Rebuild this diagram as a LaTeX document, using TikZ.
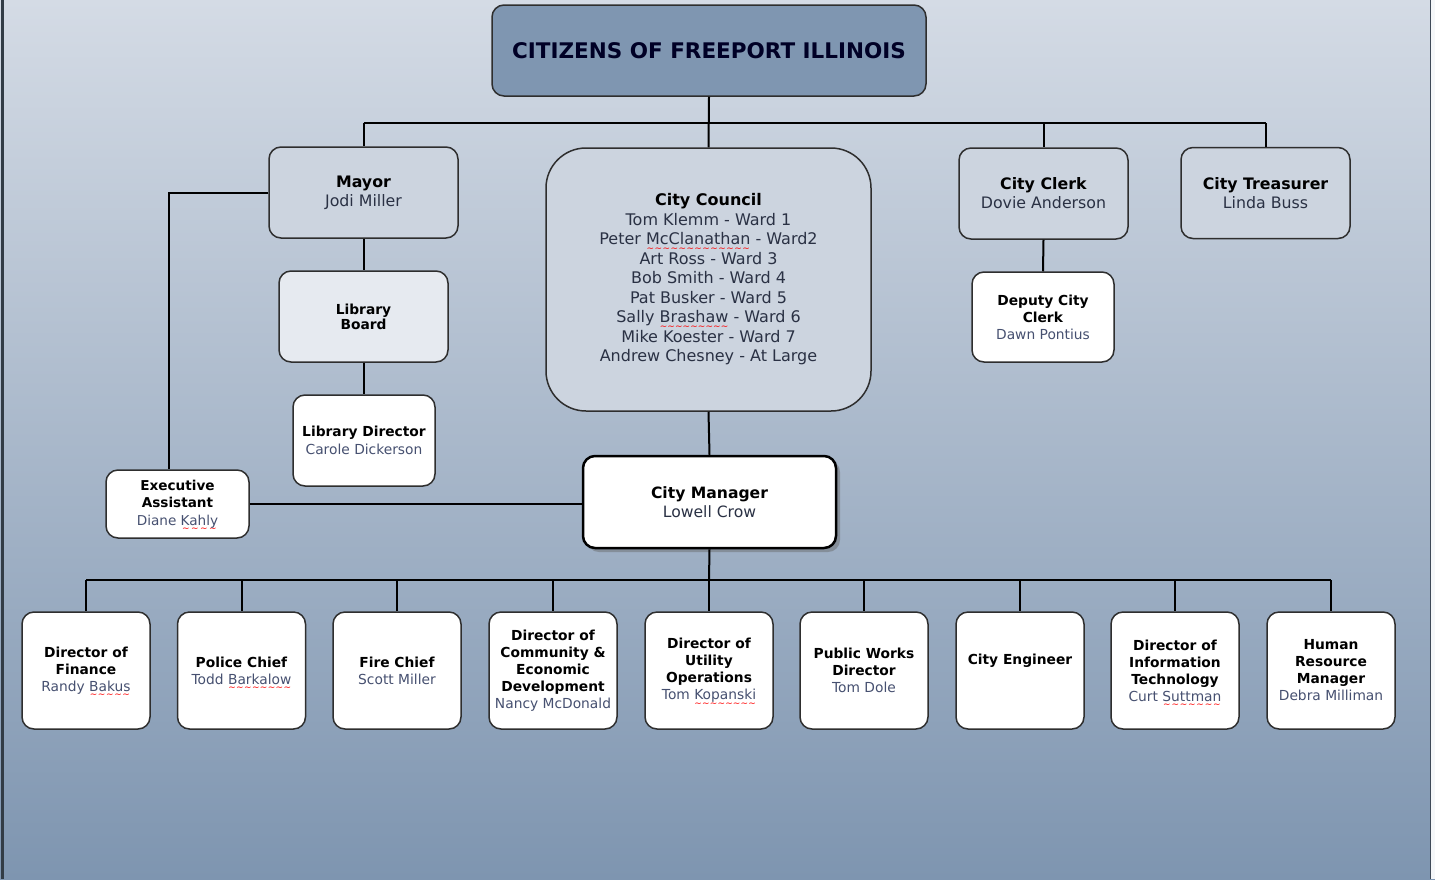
\documentclass[tikz,border=0pt]{standalone}
\usepackage{fontspec}
\setmainfont{DejaVu Sans}
\usetikzlibrary{shadows}

\definecolor{bgtop}{HTML}{D4DBE5}
\definecolor{bgbot}{HTML}{7E95B0}
\definecolor{titlefill}{HTML}{7F96B1}
\definecolor{boardfill}{HTML}{CCD4DF}
\definecolor{libfill}{HTML}{E6EAF0}
\definecolor{upname}{HTML}{2A3144}
\definecolor{namecol}{HTML}{465070}
\definecolor{framecol}{HTML}{2E2E2E}

% red spell-check wave under a word
\newcommand{\spellwave}[1]{\setbox0\hbox{#1}\rlap{\raisebox{-6.5pt}[0pt][0pt]{\textcolor{red}{\fontsize{9}{9}\selectfont\hbox to \wd0{\xleaders\hbox{\char"7E}\hfill}}}}#1}
\newcommand{\who}[1]{\textcolor{namecol}{#1}}
\newcommand{\upwho}[1]{\textcolor{upname}{#1}}

\begin{document}
\begin{tikzpicture}[x=1pt,y=-1pt,
        box/.style={draw=framecol,line width=1.5pt,rounded corners=12pt,align=center,inner sep=2pt},
        upper/.style={box,fill=boardfill,font=\fontsize{15.8}{19}\selectfont},
        staff/.style={box,fill=white,minimum width=128pt,minimum height=117pt,font=\fontsize{13.8}{17}\selectfont},
        link/.style={draw=black,line width=2pt}
    ]
    \useasboundingbox (0,0) rectangle (1435,879);
    \shade[top color=bgtop,bottom color=bgbot] (0,0) rectangle (1435,879);
    \fill[white!92!bgbot] (1431,0) rectangle (1435,879);
    \draw[line width=2.5pt,color=black!60!bgbot] (2.5,0) -- (2.5,879);
    \draw[line width=1.2pt,color=black!50!bgbot] (1430.5,0) -- (1430.5,879);

    % top level
    \node[box,fill=titlefill,minimum width=434pt,minimum height=91pt,
        font=\fontsize{21.5}{25}\selectfont\bfseries,text=black!85!blue] (title) at (709,50.5)
        {CITIZENS OF FREEPORT ILLINOIS};

    \node[upper,minimum width=189pt,minimum height=91pt] (mayor) at (363.5,192.5)
        {\textbf{Mayor}\\\upwho{Jodi Miller}};
    \node[upper,minimum width=325pt,minimum height=263pt,rounded corners=40pt,
        font=\fontsize{16}{19.5}\selectfont] (council) at (708.5,279.5)
        {\textbf{City Council}\\
        \upwho{Tom Klemm - Ward 1}\\
        \upwho{Peter \spellwave{McClanathan} - Ward2}\\
        \upwho{Art Ross - Ward 3}\\
        \upwho{Bob Smith - Ward 4}\\
        \upwho{Pat Busker - Ward 5}\\
        \upwho{Sally \spellwave{Brashaw} - Ward 6}\\
        \upwho{Mike Koester - Ward 7}\\
        \upwho{Andrew Chesney - At Large}};
    \node[upper,minimum width=169pt,minimum height=91pt] (clerk) at (1043.5,193.5)
        {\textbf{City Clerk}\\\upwho{Dovie Anderson}};
    \node[upper,minimum width=169pt,minimum height=91pt] (treasurer) at (1265.5,193)
        {\textbf{City Treasurer}\\\upwho{Linda Buss}};

    % second level
    \node[box,fill=libfill,minimum width=169pt,minimum height=91pt,
        font=\fontsize{13.8}{15}\selectfont\bfseries] (libboard) at (363.5,316.5)
        {Library\\Board};
    \node[box,fill=white,minimum width=142pt,minimum height=91pt,
        font=\fontsize{13.8}{18}\selectfont] (libdir) at (364,440.5)
        {\textbf{Library Director}\\\who{Carole Dickerson}};
    \node[box,fill=white,minimum width=142pt,minimum height=90pt,
        font=\fontsize{13.8}{17}\selectfont] (deputy) at (1043,317)
        {\textbf{Deputy City}\\\textbf{Clerk}\\\who{Dawn Pontius}};
    \node[box,fill=white,minimum width=143pt,minimum height=68pt,
        font=\fontsize{13.6}{17.5}\selectfont] (exec) at (177.5,504)
        {\textbf{Executive}\\\textbf{Assistant}\\\who{Diane \spellwave{Kahly}}};
    \node[box,fill=white,draw=black,line width=2.5pt,minimum width=253pt,minimum height=92pt,
        font=\fontsize{15.6}{19}\selectfont,
        drop shadow={shadow xshift=4pt,shadow yshift=-4pt,fill=black!60,opacity=.45}] (manager) at (709.5,502)
        {\textbf{City Manager}\\\upwho{Lowell Crow}};

    % departments
    \node[staff] (finance) at (86,670.5)
        {\textbf{Director of}\\\textbf{Finance}\\\who{Randy \spellwave{Bakus}}};
    \node[staff] (police) at (241.5,670.5)
        {\textbf{Police Chief}\\\who{Todd \spellwave{Barkalow}}};
    \node[staff] (fire) at (397,670.5)
        {\textbf{Fire Chief}\\\who{Scott Miller}};
    \node[staff] (commdev) at (553,670.5)
        {\textbf{Director of}\\\textbf{Community \&}\\\textbf{Economic}\\\textbf{Development}\\\who{Nancy McDonald}};
    \node[staff] (utility) at (709,670.5)
        {\textbf{Director of}\\\textbf{Utility}\\\textbf{Operations}\\\who{Tom \spellwave{Kopanski}}};
    \node[staff] (pubworks) at (864,670.5)
        {\textbf{Public Works}\\\textbf{Director}\\\who{Tom Dole}};
    \node[staff] (engineer) at (1020,670.5)
        {\textbf{City Engineer}\\\strut};
    \node[staff] (infotech) at (1175,670.5)
        {\textbf{Director of}\\\textbf{Information}\\\textbf{Technology}\\\who{Curt \spellwave{Suttman}}};
    \node[staff] (hrm) at (1331,670.5)
        {\textbf{Human}\\\textbf{Resource}\\\textbf{Manager}\\\who{Debra Milliman}};

    % connectors
    \coordinate (topbus) at (709,123);
    \coordinate (bus) at (709,580);

    \draw[link] (title.south) -- (council.north);
    \draw[link] (topbus -| mayor.north) -- (topbus -| treasurer.north);
    \draw[link] (topbus -| mayor.north) -- (mayor.north);
    \draw[link] (topbus -| clerk.north) -- (clerk.north);
    \draw[link] (topbus -| treasurer.north) -- (treasurer.north);

    \draw[link] (mayor.south) -- (libboard.north);
    \draw[link] (libboard.south) -- (libdir.north -| libboard.south);
    \draw[link] (clerk.south) -- (deputy.north);
    \draw[link] (mayor.west) -| ([xshift=-8.5pt]exec.north);
    \draw[link] (exec.east) -- (exec.east -| manager.west);
    \draw[link] (council.south) -- (manager.north);

    \draw[link] (manager.south) -- (bus);
    \draw[link] (bus -| finance.north) -- (bus -| hrm.north);
    \draw[link] (bus -| finance.north) -- (finance.north);
    \draw[link] (bus -| police.north) -- (police.north);
    \draw[link] (bus -| fire.north) -- (fire.north);
    \draw[link] (bus -| commdev.north) -- (commdev.north);
    \draw[link] (bus -| utility.north) -- (utility.north);
    \draw[link] (bus -| pubworks.north) -- (pubworks.north);
    \draw[link] (bus -| engineer.north) -- (engineer.north);
    \draw[link] (bus -| infotech.north) -- (infotech.north);
    \draw[link] (bus -| hrm.north) -- (hrm.north);
\end{tikzpicture}
\end{document}
